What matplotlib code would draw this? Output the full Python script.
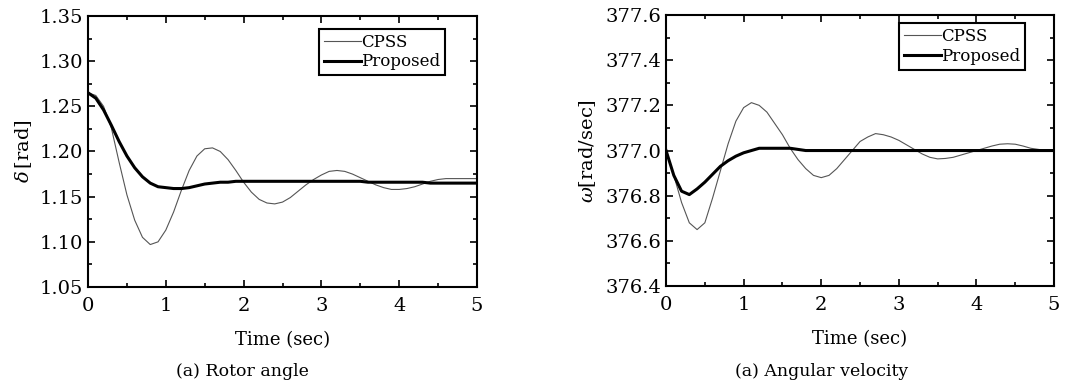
import numpy as np
import matplotlib
matplotlib.use("Agg")
import matplotlib.pyplot as plt
from matplotlib.ticker import MultipleLocator, FormatStrFormatter

plt.rcParams["font.family"] = ["DejaVu Serif"]
plt.rcParams["mathtext.fontset"] = "dejavuserif"

# Sampling grid (sec)
time = np.linspace(0, 5, 51)

# Rotor angle delta [rad]
delta_cpss = [1.265, 1.262, 1.250, 1.226, 1.188, 1.152, 1.124, 1.105, 1.097, 1.100,
              1.113, 1.133, 1.157, 1.179, 1.195, 1.203, 1.204, 1.200, 1.191, 1.179,
              1.166, 1.155, 1.147, 1.143, 1.142, 1.144, 1.149, 1.156, 1.163, 1.169,
              1.174, 1.178, 1.179, 1.178, 1.175, 1.171, 1.167, 1.163, 1.160, 1.158,
              1.158, 1.159, 1.161, 1.164, 1.167, 1.169, 1.170, 1.170, 1.170, 1.170,
              1.170]
delta_prop = [1.265, 1.259, 1.246, 1.229, 1.211, 1.195, 1.182, 1.172, 1.165, 1.161,
              1.160, 1.159, 1.159, 1.160, 1.162, 1.164, 1.165, 1.166, 1.166, 1.167,
              1.167, 1.167, 1.167, 1.167, 1.167, 1.167, 1.167, 1.167, 1.167, 1.167,
              1.167, 1.167, 1.167, 1.167, 1.167, 1.167, 1.166, 1.166, 1.166, 1.166,
              1.166, 1.166, 1.166, 1.166, 1.165, 1.165, 1.165, 1.165, 1.165, 1.165,
              1.165]

# Angular velocity omega [rad/sec]
omega_cpss = [377.00, 376.89, 376.77, 376.68, 376.65, 376.68, 376.79, 376.91, 377.03, 377.13,
              377.19, 377.212, 377.20, 377.17, 377.12, 377.07, 377.01, 376.96, 376.92, 376.89,
              376.88, 376.89, 376.92, 376.96, 377.00, 377.04, 377.06, 377.075, 377.07, 377.06,
              377.045, 377.025, 377.005, 376.985, 376.97, 376.963, 376.965, 376.97, 376.98, 376.99,
              377.00, 377.01, 377.02, 377.028, 377.03, 377.028, 377.02, 377.01, 377.005, 377.00,
              377.00]
omega_prop = [377.00, 376.89, 376.82, 376.805, 376.83, 376.86, 376.895, 376.93, 376.955, 376.975,
              376.99, 377.00, 377.01, 377.01, 377.01, 377.01, 377.01, 377.005, 377.0, 377.0,
              377.0, 377.0, 377.0, 377.0, 377.0, 377.0, 377.0, 377.0, 377.0, 377.0,
              377.0, 377.0, 377.0, 377.0, 377.0, 377.0, 377.0, 377.0, 377.0, 377.0,
              377.0, 377.0, 377.0, 377.0, 377.0, 377.0, 377.0, 377.0, 377.0, 377.0,
              377.0]

fig = plt.figure(figsize=(10.76, 3.85), dpi=100)
ax1 = fig.add_axes([0.0818, 0.2545, 0.3615, 0.704])
ax2 = fig.add_axes([0.619, 0.257, 0.3606, 0.704])


def style(ax, ylim, ymaj, ymin, fmt, leg_anchor):
    ax.set_xlim(0, 5)
    ax.set_ylim(*ylim)
    ax.xaxis.set_major_locator(MultipleLocator(1))
    ax.xaxis.set_minor_locator(MultipleLocator(0.5))
    ax.yaxis.set_major_locator(MultipleLocator(ymaj))
    ax.yaxis.set_minor_locator(MultipleLocator(ymin))
    ax.yaxis.set_major_formatter(FormatStrFormatter(fmt))
    ax.tick_params(which="both", direction="in", top=True, right=True,
                   labelsize=14, width=1.2)
    ax.tick_params(axis="x", pad=7)
    ax.tick_params(which="major", length=5)
    ax.tick_params(which="minor", length=3)
    for s in ax.spines.values():
        s.set_linewidth(1.5)
    ax.set_xlabel("Time (sec)", fontsize=13, labelpad=12)
    leg = ax.legend(loc="upper right", bbox_to_anchor=leg_anchor, fontsize=12,
                    fancybox=False, framealpha=1, edgecolor="black",
                    handlelength=2.2, handletextpad=0.0, borderaxespad=0,
                    borderpad=0.3, labelspacing=0.15)
    leg.get_frame().set_linewidth(1.5)


ax1.plot(time, delta_cpss, color="#555555", lw=0.8, label="CPSS")
ax1.plot(time, delta_prop, color="black", lw=2.2, label="Proposed")
style(ax1, (1.05, 1.35), 0.05, 0.025, "%.2f", (0.918, 0.952))
ax1.set_ylabel(r"$\delta\,$[rad]", fontsize=14, labelpad=4)

ax2.plot(time, omega_cpss, color="#555555", lw=0.8, label="CPSS")
ax2.plot(time, omega_prop, color="black", lw=2.2, label="Proposed")
style(ax2, (376.4, 377.6), 0.2, 0.1, "%.1f", (0.925, 0.970))
ax2.set_ylabel(r"$\omega$[rad/sec]", fontsize=14, labelpad=5)

fig.text(0.225, 0.036, "(a) Rotor angle", ha="center", va="center", fontsize=12.5)
fig.text(0.764, 0.036, "(a) Angular velocity", ha="center", va="center", fontsize=12.5)

fig.savefig("out.png", dpi=100)
